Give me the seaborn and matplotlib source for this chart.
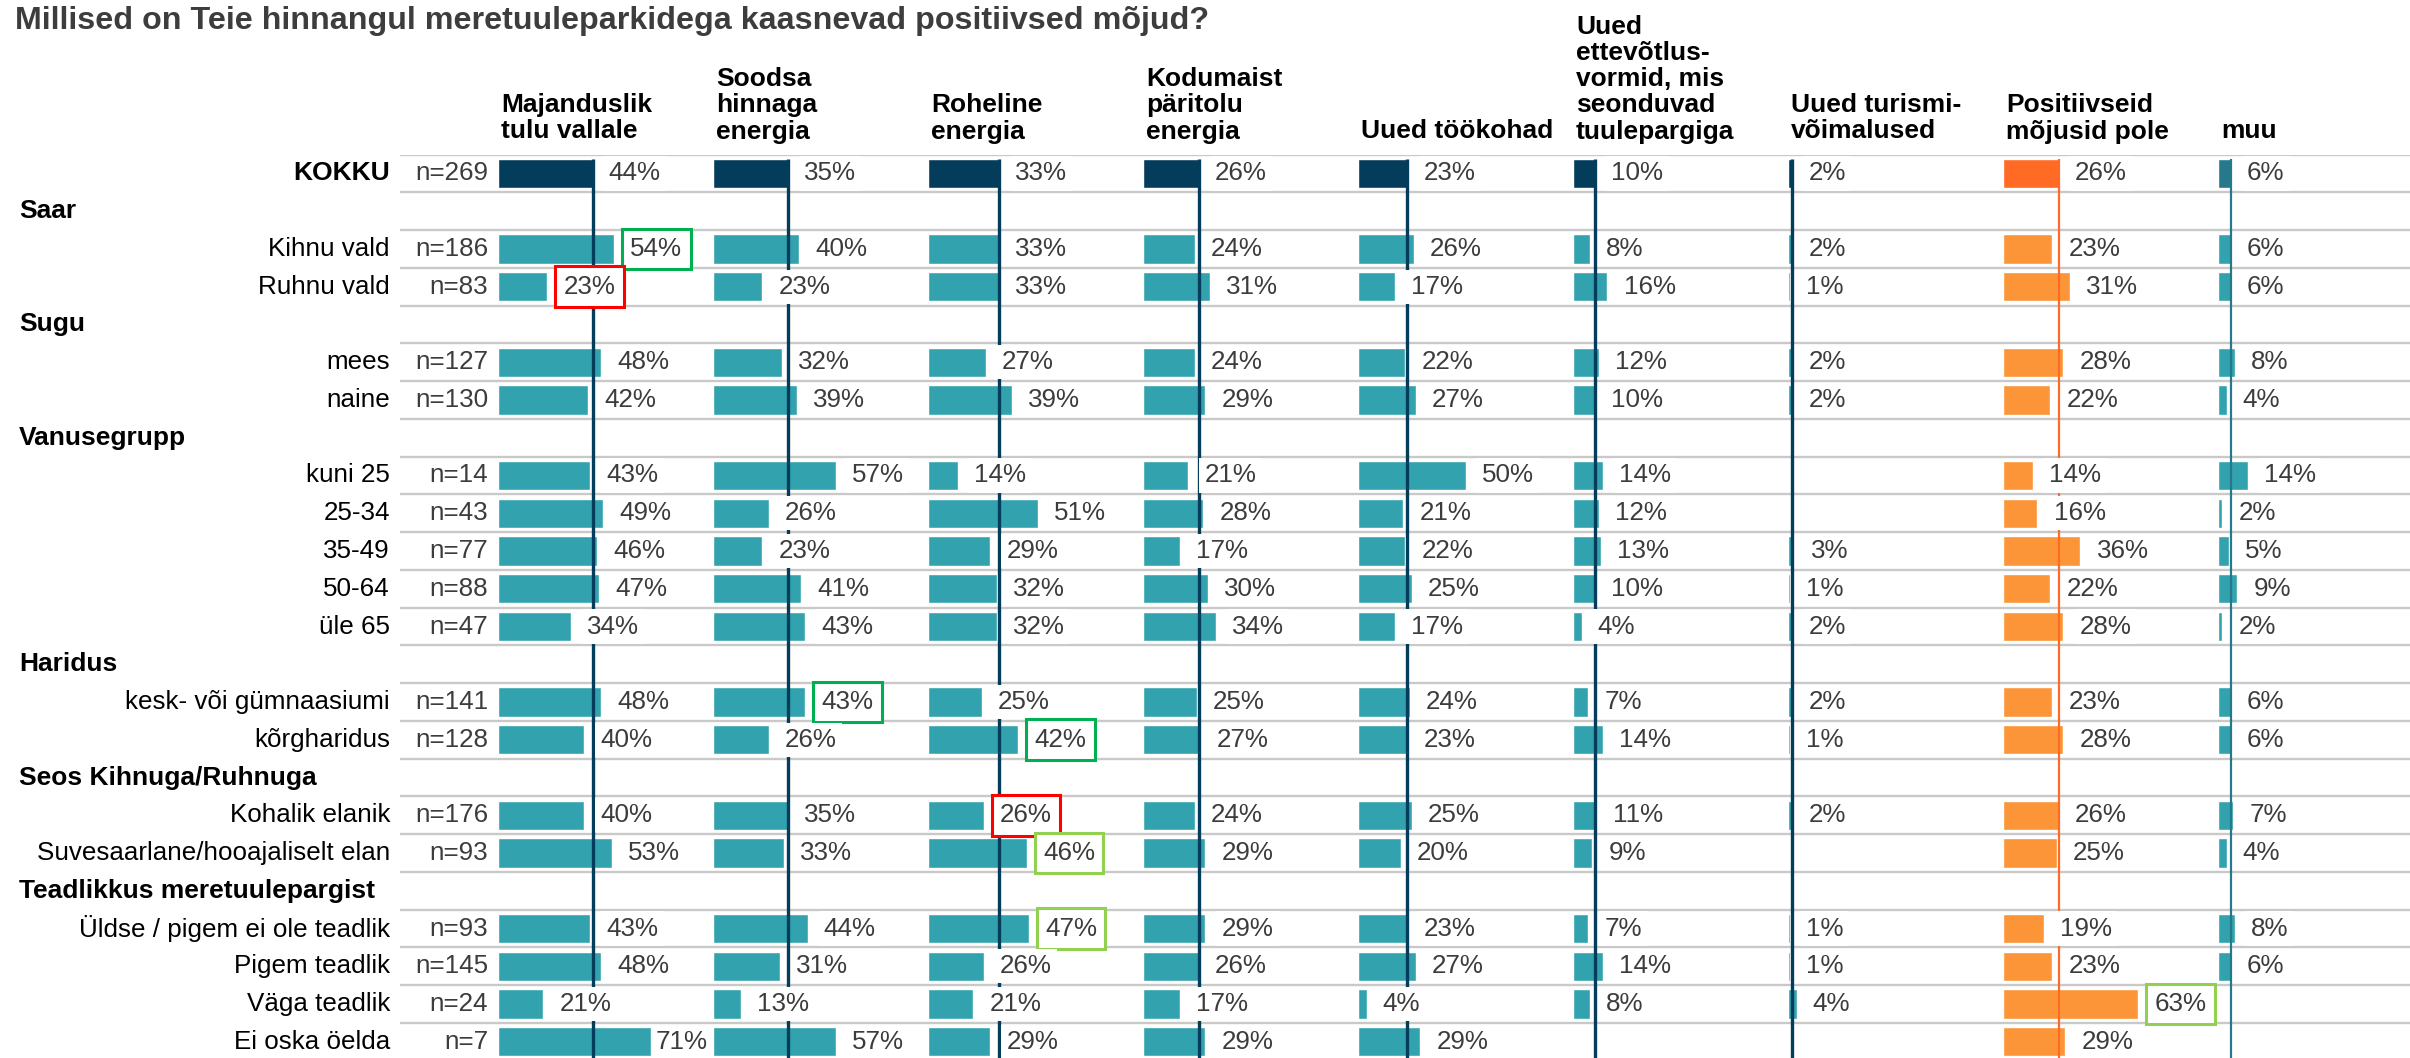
import numpy as np
import pandas as pd
import matplotlib
matplotlib.use("Agg")
import matplotlib.pyplot as plt
import seaborn as sns

sns.set_theme(style="white")
plt.rcParams['font.family'] = ['Liberation Sans', 'DejaVu Sans']

N = np.nan

title = "Millised on Teie hinnangul meretuuleparkidega kaasnevad positiivsed mõjud?"

column_headers = [
    "Majanduslik\ntulu vallale",
    "Soodsa\nhinnaga\nenergia",
    "Roheline\nenergia",
    "Kodumaist\npäritolu\nenergia",
    "Uued töökohad",
    "Uued\nettevõtlus-\nvormid, mis\nseonduvad\ntuulepargiga",
    "Uued turismi-\nvõimalused",
    "Positiivseid\nmõjusid pole",
    "muu",
]

row_labels = [
    "KOKKU", "Saar", "Kihnu vald", "Ruhnu vald", "Sugu", "mees", "naine",
    "Vanusegrupp", "kuni 25", "25-34", "35-49", "50-64", "üle 65",
    "Haridus", "kesk- või gümnaasiumi", "kõrgharidus",
    "Seos Kihnuga/Ruhnuga", "Kohalik elanik", "Suvesaarlane/hooajaliselt elan",
    "Teadlikkus meretuulepargist", "Üldse / pigem ei ole teadlik",
    "Pigem teadlik", "Väga teadlik", "Ei oska öelda",
]
row_kinds = [
    "total", "group", "item", "item", "group", "item", "item",
    "group", "item", "item", "item", "item", "item",
    "group", "item", "item",
    "group", "item", "item",
    "group", "item", "item", "item", "item",
]
n_values = [269, N, 186, 83, N, 127, 130, N, 14, 43, 77, 88, 47,
            N, 141, 128, N, 176, 93, N, 93, 145, 24, 7]

majanduslik = [44, N, 54, 23, N, 48, 42, N, 43, 49, 46, 47, 34, N, 48, 40, N, 40, 53, N, 43, 48, 21, 71]
soodsa      = [35, N, 40, 23, N, 32, 39, N, 57, 26, 23, 41, 43, N, 43, 26, N, 35, 33, N, 44, 31, 13, 57]
roheline    = [33, N, 33, 33, N, 27, 39, N, 14, 51, 29, 32, 32, N, 25, 42, N, 26, 46, N, 47, 26, 21, 29]
kodumaist   = [26, N, 24, 31, N, 24, 29, N, 21, 28, 17, 30, 34, N, 25, 27, N, 24, 29, N, 29, 26, 17, 29]
tookohad    = [23, N, 26, 17, N, 22, 27, N, 50, 21, 22, 25, 17, N, 24, 23, N, 25, 20, N, 23, 27, 4, 29]
ettevotlus  = [10, N, 8, 16, N, 12, 10, N, 14, 12, 13, 10, 4, N, 7, 14, N, 11, 9, N, 7, 14, 8, N]
turism      = [2, N, 2, 1, N, 2, 2, N, N, N, 3, 1, 2, N, 2, 1, N, 2, N, N, 1, 1, 4, N]
pole        = [26, N, 23, 31, N, 28, 22, N, 14, 16, 36, 22, 28, N, 23, 28, N, 26, 25, N, 19, 23, 63, 29]
muu         = [6, N, 6, 6, N, 8, 4, N, 14, 2, 5, 9, 2, N, 6, 6, N, 7, 4, N, 8, 6, N, N]

series = [majanduslik, soodsa, roheline, kodumaist, tookohad, ettevotlus, turism, pole, muu]

# highlighted cells: (row label, column index, colour key)
highlights = [
    ("Kihnu vald", 0, "green"),
    ("Ruhnu vald", 0, "red"),
    ("kesk- või gümnaasiumi", 1, "green"),
    ("kõrgharidus", 2, "green"),
    ("Kohalik elanik", 2, "red"),
    ("Suvesaarlane/hooajaliselt elan", 2, "lightgreen"),
    ("Üldse / pigem ei ole teadlik", 2, "lightgreen"),
    ("Väga teadlik", 7, "lightgreen"),
]

# ---- styling ----
NAVY = "#033d5b"
TEAL = "#32a3ae"
ORANGE = "#fb9537"
ORANGE_TOTAL = "#ff6a25"
MUU_TOTAL = "#25798a"
HL = {"green": "#00b050", "red": "#ff0000", "lightgreen": "#92d050"}
TXT = "#3c3c3c"
GRID = "#c9c9c9"

col_style = []
for k in range(len(series)):
    if k == 7:
        col_style.append(dict(total=ORANGE_TOTAL, bar=ORANGE, line=ORANGE_TOTAL, lw=1.6))
    elif k == 8:
        col_style.append(dict(total=MUU_TOTAL, bar=TEAL, line=MUU_TOTAL, lw=1.6))
    else:
        col_style.append(dict(total=NAVY, bar=TEAL, line=NAVY, lw=2.4))

W, H = 2410, 1058
fig = plt.figure(figsize=(W / 100, H / 100), dpi=100)

row_h = 37.75
top_px = 173.5 - row_h / 2
axes_h = 1 - top_px / H
n_rows = len(row_labels)
y_bottom = -0.5 + (H - top_px) / row_h

FS = 18.7
FS_B = 19

# background axes: gridlines + row labels
bg = fig.add_axes([0, 0, 1, axes_h])
bg.set_xlim(0, W)
bg.set_ylim(y_bottom, -0.5)
bg.axis("off")
bounds = set()
for i, kind in enumerate(row_kinds):
    if kind != "group":
        bounds.add(i - 0.5)
        bounds.add(i + 0.5)
bg.hlines(sorted(bounds), 400, W, color=GRID, lw=1.7, zorder=0)

for i, (lab, kind, n) in enumerate(zip(row_labels, row_kinds, n_values)):
    if kind == "group":
        bg.text(19, i, lab, ha="left", va="center", fontsize=FS_B,
                fontweight="bold", color="black")
    else:
        bg.text(390, i, lab, ha="right", va="center", fontsize=FS_B if kind == "total" else FS,
                fontweight="bold" if kind == "total" else "normal", color="black")
        bg.text(488, i, f"n={n:.0f}", ha="right", va="center", fontsize=FS, color=TXT)

col_left0 = 498
col_w = 215
hl_lookup = {(row_labels.index(r), c): HL[key] for r, c, key in highlights}

for k, vals in enumerate(series):
    st = col_style[k]
    x0 = (col_left0 + k * col_w) / W
    ax = fig.add_axes([x0, 0, col_w / W, axes_h])
    ax.patch.set_alpha(0)
    df = pd.DataFrame({"row": row_labels, "value": vals, "kind": row_kinds})
    df_plot = df.dropna(subset=["value"])
    palette = {r: (st["total"] if kd == "total" else st["bar"])
               for r, kd in zip(row_labels, row_kinds)}
    sns.barplot(data=df_plot, x="value", y="row", order=row_labels, hue="row",
                palette=palette, legend=False, width=0.78, saturation=1,
                orient="h", errorbar=None, ax=ax, zorder=2)
    ax.set_xlim(0, 100)
    ax.set_ylim(y_bottom, -0.5)
    ax.axis("off")
    total_val = vals[0]
    ax.vlines(total_val, -0.39, y_bottom, color=st["line"], lw=st["lw"], zorder=3)
    for i, v in enumerate(vals):
        if np.isnan(v):
            continue
        label = f"{v:.0f}%"
        xt = v + 7.5
        if len(label) >= 3:
            xt = min(xt, 73.5)
        ec = hl_lookup.get((i, k))
        if ec:
            bbox = dict(boxstyle="square,pad=0.32", fc="white", ec=ec, lw=2.2)
        else:
            bbox = dict(boxstyle="square,pad=0.2", fc="white", ec="none")
        ax.text(xt, i, label, ha="left", va="center", fontsize=FS, color=TXT,
                bbox=bbox, zorder=5, clip_on=False)
    fig.text((col_left0 + k * col_w + 3) / W, 1 - 143.5 / H, column_headers[k],
             ha="left", va="bottom", fontsize=FS_B, fontweight="bold",
             color="black", linespacing=1.11)

fig.text(15 / W, 1 - 29 / H, title, ha="left", va="baseline", fontsize=23.2,
         fontweight="bold", color="#3d3d3d")

fig.savefig("out.png", dpi=100)
